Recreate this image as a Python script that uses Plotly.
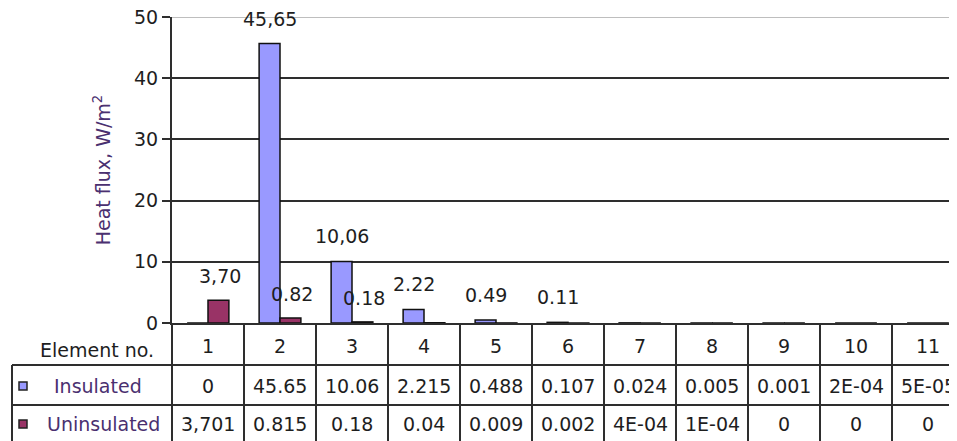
import plotly.graph_objects as go

elements = ["1", "2", "3", "4", "5", "6", "7", "8", "9", "10", "11"]
insulated = [0, 45.65, 10.06, 2.215, 0.488, 0.107, 0.024, 0.005, 0.001, 0.0002, 0.00005]
uninsulated = [3.701, 0.815, 0.18, 0.04, 0.009, 0.002, 0.0004, 0.0001, 0, 0, 0]

# text as printed in the data table
insulated_cells = ["0", "45.65", "10.06", "2.215", "0.488", "0.107", "0.024", "0.005", "0.001", "2E-04", "5E-05"]
uninsulated_cells = ["3,701", "0.815", "0.18", "0.04", "0.009", "0.002", "4E-04", "1E-04", "0", "0", "0"]

# data labels shown above the bars
insulated_labels = ["", "45,65", "10,06", "2.22", "0.49", "0.11", "", "", "", "", ""]
uninsulated_labels = ["3,70", "0.82", "0.18", "", "", "", "", "", "", "", ""]

# the page puts the figure 8px in from the top-left corner
OFF = 8
W, H = 957, 441
L, R, T, B = 164, 0, 9, 126
PW, PH = W - L - R, H - T - B
COL = 72

FONT = "DejaVu Sans"
PURPLE = "#4a3070"
LINE = "#2e2e2e"
TXT = "#1e1e1e"
CELL = dict(size=19, color=TXT)


def px_x(x):
    return (x - OFF - L) / PW


def px_y(y):
    return (H - B - (y - OFF)) / PH


fig = go.Figure()
fig.add_bar(x=elements, y=insulated, name="Insulated",
            marker=dict(color="#9999ff", line=dict(color="#111111", width=1.5)))
fig.add_bar(x=elements, y=uninsulated, name="Uninsulated",
            marker=dict(color="#993366", line=dict(color="#111111", width=1.5)))

ann = []
for i, (a, b) in enumerate(zip(insulated_labels, uninsulated_labels)):
    if a:
        ann.append(dict(x=i, y=insulated[i], text=a, showarrow=False, xshift=-10, yshift=25,
                        font=dict(size=19, color=TXT)))
    if b:
        ann.append(dict(x=i, y=uninsulated[i], text=b, showarrow=False, xshift=12, yshift=24,
                        font=dict(size=19, color=TXT)))

# data table under the axis
rows = [(346, elements), (386, insulated_cells), (424, uninsulated_cells)]
for yy, vals in rows:
    for i, v in enumerate(vals):
        ann.append(dict(x=i, y=px_y(yy), yref="paper", text=v, showarrow=False,
                        xanchor="center", yanchor="middle", font=CELL))

ann.append(dict(x=px_x(156), y=px_y(350), xref="paper", yref="paper", text="Element no.",
                xanchor="right", yanchor="middle", showarrow=False, font=CELL))
ann.append(dict(x=px_x(98), y=px_y(386), xref="paper", yref="paper", text="Insulated",
                xanchor="center", yanchor="middle", showarrow=False, font={**CELL, "color": PURPLE}))
ann.append(dict(x=px_x(103), y=px_y(424), xref="paper", yref="paper", text="Uninsulated",
                xanchor="center", yanchor="middle", showarrow=False, font={**CELL, "color": PURPLE}))

shapes = []
# top gridline lighter than the others
shapes.append(dict(type="line", xref="paper", yref="y", x0=0, x1=1, y0=50, y1=50,
                   line=dict(color="#a8a8a8", width=1.5), layer="below"))
# column dividers of the table
for i in range(len(elements)):
    shapes.append(dict(type="line", xref="x", yref="paper", x0=i + 0.5, x1=i + 0.5,
                       y0=0, y1=px_y(450), line=dict(color=LINE, width=2)))
shapes.append(dict(type="line", xref="paper", yref="paper", x0=0, x1=0,
                   y0=0, y1=px_y(450), line=dict(color=LINE, width=2)))
shapes.append(dict(type="line", xref="paper", yref="paper", x0=px_x(12), x1=px_x(12),
                   y0=px_y(365), y1=px_y(450), line=dict(color=LINE, width=2)))
for yy in (365, 405):
    shapes.append(dict(type="line", xref="paper", yref="paper", x0=px_x(12), x1=1.01,
                       y0=px_y(yy), y1=px_y(yy), line=dict(color=LINE, width=2)))
# legend keys in the table
for yy, col in ((386, "#9999ff"), (424, "#993366")):
    shapes.append(dict(type="rect", xref="paper", yref="paper",
                       x0=px_x(19), x1=px_x(27), y0=px_y(yy - 4), y1=px_y(yy + 4),
                       fillcolor=col, line=dict(color="#222222", width=1.5)))

fig.update_layout(
    width=W, height=H,
    margin=dict(l=L, r=R, t=T, b=B),
    plot_bgcolor="white", paper_bgcolor="white",
    font=dict(family=FONT, size=17, color=TXT),
    barmode="group", bargap=0.42, bargroupgap=0,
    showlegend=False,
    annotations=ann, shapes=shapes,
)
fig.update_xaxes(range=[-0.5, -0.5 + PW / COL], showticklabels=False, showgrid=False,
                 showline=True, linecolor=LINE, linewidth=2, ticks="", automargin=False)
fig.update_yaxes(range=[0, 50], tickvals=[0, 10, 20, 30, 40, 50],
                 showgrid=True, gridcolor=LINE, gridwidth=2,
                 showline=True, linecolor=LINE, linewidth=2,
                 ticks="outside", ticklen=8, tickcolor=LINE, tickwidth=2,
                 tickfont=dict(size=19, color=TXT), ticklabeloverflow="allow",
                 zeroline=False, automargin=False,
                 title=dict(text="Heat flux, W/m<sup>2</sup>", standoff=18,
                            font=dict(size=19, color=PURPLE)))

fig.write_html("out.html")
